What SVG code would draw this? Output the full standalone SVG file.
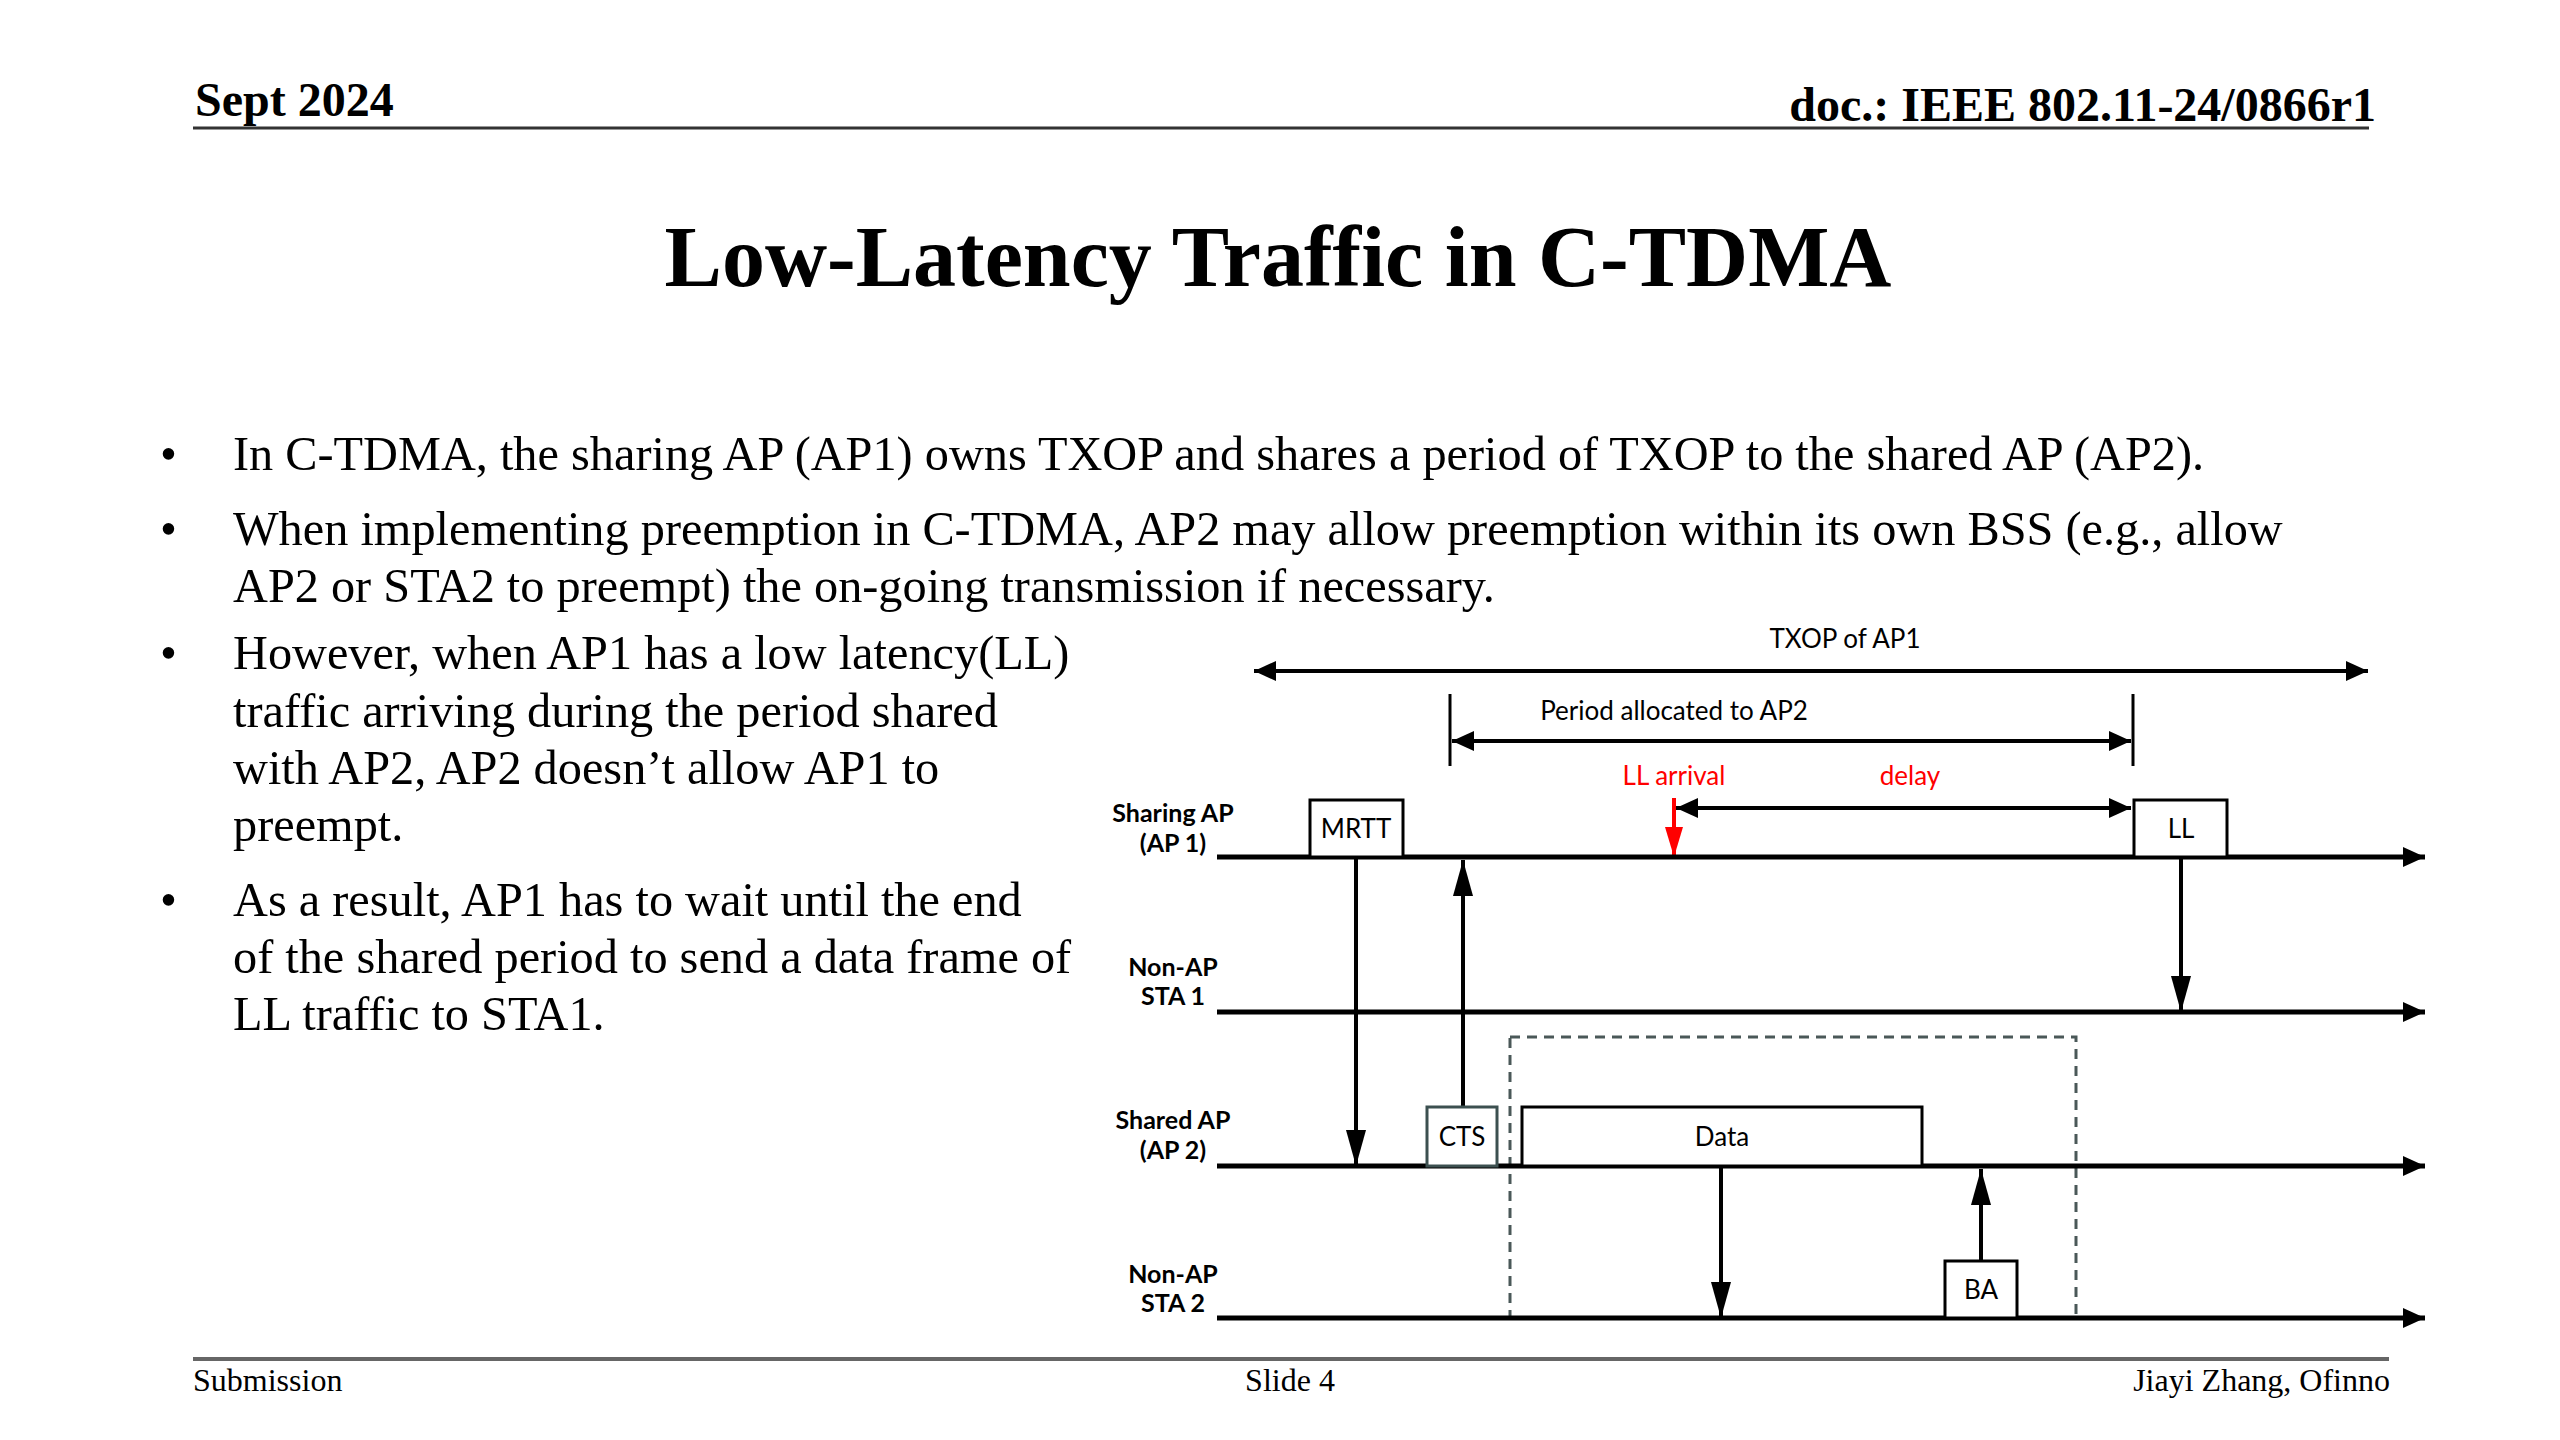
<svg xmlns="http://www.w3.org/2000/svg" width="2560" height="1440" viewBox="0 0 2560 1440">
<defs>
<style>
.hdr{font-family:"Liberation Serif","Times New Roman",serif;font-weight:bold;font-size:48px;fill:#000}
.title{font-family:"Liberation Serif","Times New Roman",serif;font-weight:bold;font-size:86px;fill:#000}
.body{font-family:"Liberation Serif","Times New Roman",serif;font-size:48.3px;fill:#000}
.foot{font-family:"Liberation Serif","Times New Roman",serif;font-size:32px;fill:#000}
.lbl{font-family:Lato,"Liberation Sans",sans-serif;font-weight:bold;font-size:25px;fill:#000;text-anchor:middle}
.dt{font-family:Lato,"Liberation Sans",sans-serif;font-size:26px;fill:#000;text-anchor:middle}
.red{fill:#ff0000}
.tl{stroke:#000;stroke-width:5;fill:none}
.ln{stroke:#000;stroke-width:4;fill:none}
.box{fill:#fff;stroke:#000;stroke-width:3}
</style>
<marker id="ah" viewBox="0 0 22 20" refX="22" refY="10" markerWidth="22" markerHeight="20" markerUnits="userSpaceOnUse" orient="auto-start-reverse">
<path d="M0,0 L22,10 L0,20 z" fill="#000"/>
</marker>
<marker id="vd" viewBox="0 0 36 20" refX="36" refY="10" markerWidth="36" markerHeight="20" markerUnits="userSpaceOnUse" orient="auto">
<path d="M0,0 L36,10 L0,20 z" fill="#000"/>
</marker>
<marker id="vr" viewBox="0 0 30 18" refX="30" refY="9" markerWidth="30" markerHeight="18" markerUnits="userSpaceOnUse" orient="auto">
<path d="M0,0 L30,9 L0,18 z" fill="#ff0000"/>
</marker>
</defs>
<rect width="2560" height="1440" fill="#fff"/>

<g id="header">
<text class="hdr" x="195" y="116">Sept 2024</text>
<text class="hdr" x="2376" y="121" text-anchor="end">doc.: IEEE 802.11-24/0866r1</text>
<line x1="193" y1="128" x2="2369" y2="128" stroke="#333" stroke-width="3"/>
</g>

<text class="title" x="1278" y="286" text-anchor="middle">Low-Latency Traffic in C-TDMA</text>

<g id="bullets">
<text class="body" x="160" y="470">•</text>
<text class="body" x="233" y="470">In C-TDMA, the sharing AP (AP1) owns TXOP and shares a period of TXOP to the shared AP (AP2).</text>
<text class="body" x="160" y="545">•</text>
<text class="body" x="233" y="545">When implementing preemption in C-TDMA, AP2 may allow preemption within its own BSS (e.g., allow</text>
<text class="body" x="233" y="602">AP2 or STA2 to preempt) the on-going transmission if necessary.</text>
<text class="body" x="160" y="669">•</text>
<text class="body" x="233" y="669">However, when AP1 has a low latency(LL)</text>
<text class="body" x="233" y="727">traffic arriving during the period shared</text>
<text class="body" x="233" y="784">with AP2, AP2 doesn’t allow AP1 to</text>
<text class="body" x="233" y="841">preempt.</text>
<text class="body" x="160" y="916">•</text>
<text class="body" x="233" y="916">As a result, AP1 has to wait until the end</text>
<text class="body" x="233" y="973">of the shared period to send a data frame of</text>
<text class="body" x="233" y="1030">LL traffic to STA1.</text>
</g>

<g id="footer">
<line x1="193" y1="1359" x2="2389" y2="1359" stroke="#666" stroke-width="4"/>
<text class="foot" x="193" y="1391">Submission</text>
<text class="foot" x="1290" y="1391" text-anchor="middle">Slide 4</text>
<text class="foot" x="2390" y="1391" text-anchor="end">Jiayi Zhang, Ofinno</text>
</g>

<g id="diagram-labels">
<text class="dt" x="1845" y="648">TXOP of AP1</text>
<text class="dt" x="1674" y="720">Period allocated to AP2</text>
<text class="dt red" x="1674" y="785">LL arrival</text>
<text class="dt red" x="1910" y="785">delay</text>
<text class="lbl" x="1173" y="822">Sharing AP</text>
<text class="lbl" x="1173" y="852">(AP 1)</text>
<text class="lbl" x="1173" y="976">Non-AP</text>
<text class="lbl" x="1173" y="1005">STA 1</text>
<text class="lbl" x="1173" y="1129">Shared AP</text>
<text class="lbl" x="1173" y="1159">(AP 2)</text>
<text class="lbl" x="1173" y="1283">Non-AP</text>
<text class="lbl" x="1173" y="1312">STA 2</text>
</g>

<g id="dashed-region">
<rect x="1510" y="1037" width="566" height="281" fill="none" stroke="#4a5858" stroke-width="3" stroke-dasharray="10 7"/>
</g>

<g id="connectors">
<line class="ln" x1="1254" y1="671" x2="2368" y2="671" marker-start="url(#ah)" marker-end="url(#ah)"/>
<line class="ln" x1="1450" y1="694" x2="1450" y2="766" style="stroke-width:3"/>
<line class="ln" x1="2133" y1="694" x2="2133" y2="766" style="stroke-width:3"/>
<line class="ln" x1="1452" y1="741" x2="2131" y2="741" marker-start="url(#ah)" marker-end="url(#ah)"/>
<line class="ln" x1="1676" y1="808" x2="2131" y2="808" marker-start="url(#ah)" marker-end="url(#ah)"/>
<line x1="1674" y1="798" x2="1674" y2="857" stroke="#ff0000" stroke-width="4" marker-end="url(#vr)"/>
<line class="tl" x1="1217" y1="857" x2="2425" y2="857" marker-end="url(#ah)"/>
<line class="tl" x1="1217" y1="1012" x2="2425" y2="1012" marker-end="url(#ah)"/>
<line class="tl" x1="1217" y1="1166" x2="2425" y2="1166" marker-end="url(#ah)"/>
<line class="tl" x1="1217" y1="1318" x2="2425" y2="1318" marker-end="url(#ah)"/>
<line class="ln" x1="1356" y1="857" x2="1356" y2="1166" marker-end="url(#vd)"/>
<line class="ln" x1="1463" y1="1107" x2="1463" y2="860" marker-end="url(#vd)"/>
<line class="ln" x1="2181" y1="857" x2="2181" y2="1012" marker-end="url(#vd)"/>
<line class="ln" x1="1721" y1="1166" x2="1721" y2="1318" marker-end="url(#vd)"/>
<line class="ln" x1="1981" y1="1261" x2="1981" y2="1169" marker-end="url(#vd)"/>
</g>

<g id="node-mrtt">
<rect class="box" x="1310" y="800" width="93" height="57"/>
<text class="dt" x="1356" y="838">MRTT</text>
</g>
<g id="node-ll">
<rect class="box" x="2134" y="800" width="93" height="57"/>
<text class="dt" x="2181" y="838">LL</text>
</g>
<g id="node-cts">
<rect x="1427" y="1107" width="70" height="59" fill="#fff" stroke="#3c5050" stroke-width="3"/>
<text class="dt" x="1462" y="1146">CTS</text>
</g>
<g id="node-data">
<rect class="box" x="1522" y="1107" width="400" height="59"/>
<text class="dt" x="1722" y="1146">Data</text>
</g>
<g id="node-ba">
<rect class="box" x="1945" y="1261" width="72" height="57"/>
<text class="dt" x="1981" y="1299">BA</text>
</g>
</svg>
